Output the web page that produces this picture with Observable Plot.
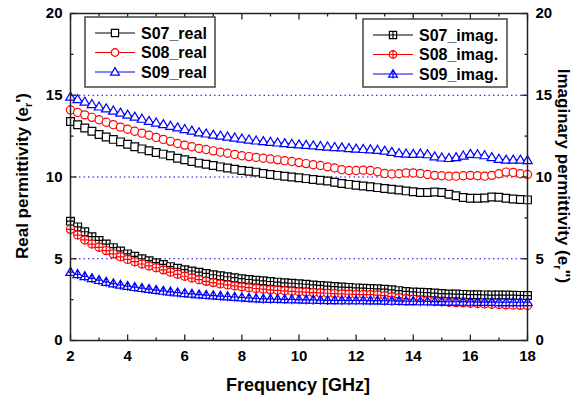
<!DOCTYPE html>
<html><head><meta charset="utf-8">
<script src="https://cdn.jsdelivr.net/npm/d3@7"></script>
<script src="https://cdn.jsdelivr.net/npm/@observablehq/plot@0.6"></script>
<style>
html,body{margin:0;padding:0;background:#fff;overflow:hidden}
svg{font-family:"Liberation Sans",Arial,sans-serif}
</style>
</head><body><div id="chart"></div>
<script>
const freq = [2,2.25,2.5,2.75,3,3.25,3.5,3.75,4,4.25,4.5,4.75,5,5.25,5.5,5.75,6,6.25,6.5,6.75,7,7.25,7.5,7.75,8,8.25,8.5,8.75,9,9.25,9.5,9.75,10,10.25,10.5,10.75,11,11.25,11.5,11.75,12,12.25,12.5,12.75,13,13.25,13.5,13.75,14,14.25,14.5,14.75,15,15.25,15.5,15.75,16,16.25,16.5,16.75,17,17.25,17.5,17.75,18];

const s07Real = [13.40,13.20,13.00,12.80,12.60,12.45,12.30,12.15,12.00,11.85,11.72,11.60,11.50,11.40,11.30,11.15,11.05,10.95,10.85,10.78,10.70,10.62,10.55,10.48,10.40,10.35,10.30,10.22,10.15,10.10,10.05,10.00,9.95,9.90,9.85,9.80,9.75,9.68,9.60,9.55,9.50,9.45,9.40,9.35,9.30,9.25,9.20,9.15,9.10,9.05,9.05,9.08,9.05,8.95,8.85,8.75,8.70,8.70,8.72,8.78,8.76,8.70,8.65,8.62,8.60];
const s08Real = [14.10,13.95,13.80,13.65,13.50,13.35,13.20,13.05,12.92,12.80,12.68,12.55,12.42,12.30,12.18,12.05,11.95,11.85,11.75,11.68,11.60,11.52,11.45,11.38,11.30,11.25,11.20,11.15,11.10,11.05,11.00,10.95,10.88,10.82,10.75,10.70,10.62,10.55,10.45,10.40,10.40,10.42,10.40,10.32,10.22,10.18,10.20,10.25,10.25,10.22,10.15,10.10,10.08,10.05,10.05,10.08,10.10,10.08,10.05,10.10,10.20,10.30,10.28,10.20,10.15];
const s09Real = [14.90,14.75,14.60,14.45,14.30,14.18,14.05,13.92,13.80,13.68,13.55,13.42,13.32,13.22,13.12,13.02,12.92,12.82,12.72,12.65,12.58,12.52,12.46,12.40,12.34,12.28,12.22,12.18,12.14,12.10,12.06,12.02,11.98,11.95,11.92,11.88,11.85,11.82,11.80,11.76,11.72,11.70,11.68,11.65,11.60,11.52,11.45,11.42,11.40,11.42,11.38,11.25,11.18,11.15,11.20,11.30,11.40,11.38,11.32,11.20,11.10,11.05,11.05,11.05,11.02];
const s07Imag = [7.30,6.95,6.65,6.35,6.12,5.90,5.68,5.48,5.30,5.15,5.00,4.88,4.76,4.65,4.52,4.42,4.33,4.25,4.18,4.10,4.02,3.96,3.90,3.84,3.78,3.73,3.69,3.65,3.61,3.57,3.53,3.50,3.47,3.44,3.40,3.37,3.33,3.30,3.27,3.25,3.22,3.20,3.18,3.16,3.14,3.10,3.05,3.00,2.97,2.95,2.93,2.90,2.87,2.85,2.84,2.82,2.80,2.80,2.79,2.78,2.78,2.78,2.77,2.76,2.75];
const s08Imag = [6.80,6.45,6.15,5.90,5.70,5.50,5.30,5.12,4.96,4.82,4.68,4.56,4.45,4.32,4.18,4.05,3.93,3.82,3.72,3.62,3.54,3.46,3.40,3.34,3.28,3.23,3.18,3.14,3.10,3.07,3.04,3.01,2.98,2.96,2.93,2.91,2.89,2.87,2.85,2.83,2.82,2.81,2.80,2.78,2.74,2.68,2.62,2.56,2.52,2.48,2.44,2.40,2.37,2.34,2.32,2.30,2.28,2.26,2.24,2.22,2.20,2.18,2.16,2.15,2.14];
const s09Imag = [4.18,4.05,3.92,3.80,3.69,3.58,3.48,3.40,3.33,3.26,3.20,3.14,3.08,3.03,2.98,2.93,2.89,2.85,2.81,2.78,2.75,2.72,2.69,2.66,2.63,2.60,2.57,2.55,2.54,2.53,2.52,2.51,2.50,2.49,2.48,2.47,2.46,2.46,2.45,2.45,2.45,2.45,2.44,2.44,2.43,2.42,2.41,2.40,2.40,2.39,2.39,2.38,2.38,2.37,2.37,2.36,2.36,2.35,2.35,2.35,2.34,2.34,2.34,2.34,2.34];

const seriesNames = ["S07_real","S08_real","S09_real","S07_imag.","S08_imag.","S09_imag."];
const seriesValues = [s07Real,s08Real,s09Real,s07Imag,s08Imag,s09Imag];
const seriesColors = ["#000000","#ff0000","#0000ff","#000000","#ff0000","#0000ff"];
const seriesShapes = ["square","circle","triangle","square","circle","triangle"];
const seriesCross = [false,false,false,true,true,true];
const xTicks = [2,4,6,8,10,12,14,16,18];
const xMinor = [3,5,7,9,11,13,15,17];
const yTicks = [0,5,10,15,20];
const yMinor = [2.5,7.5,12.5,17.5];
const gridLevels = [5,10,15];

function makeSymbol(shape, cross) {
  return {draw(ctx, size) {
    const r = Math.sqrt(size / Math.PI);
    if (shape === "square") {
      const h = r * 0.9;
      ctx.moveTo(-h,-h); ctx.lineTo(h,-h); ctx.lineTo(h,h); ctx.lineTo(-h,h); ctx.closePath();
      if (cross) { ctx.moveTo(-h,0); ctx.lineTo(h,0); ctx.moveTo(0,-h); ctx.lineTo(0,h); }
    } else if (shape === "circle") {
      const c = r * 0.95;
      ctx.moveTo(c,0); ctx.arc(0,0,c,0,2*Math.PI); ctx.closePath();
      if (cross) { ctx.moveTo(-c,0); ctx.lineTo(c,0); ctx.moveTo(0,-c); ctx.lineTo(0,c); }
    } else {
      const h = r * 1.1;
      ctx.moveTo(0,-h); ctx.lineTo(h*1.0, h*0.7); ctx.lineTo(-h*1.0, h*0.7); ctx.closePath();
      if (cross) { ctx.moveTo(0,-h); ctx.lineTo(0,h*1.0); ctx.moveTo(-h*0.5,0); ctx.lineTo(h*0.5,0); }
    }
  }};
}
// inward tick marks drawn as one-sided segment symbols; length = r
function tickSymbol(dx, dy) {
  return {draw(ctx, size) {
    const l = Math.sqrt(size / Math.PI);
    ctx.moveTo(0, 0); ctx.lineTo(dx * l, dy * l);
  }};
}

const marks = [
  Plot.ruleY(gridLevels, {stroke: "#0000ff", strokeDasharray: "1.5,3", strokeWidth: 1})
];
seriesValues.forEach((vals, k) => {
  const data = freq.map((f, i) => ({f, v: vals[i]}));
  marks.push(Plot.line(data, {x: "f", y: "v", stroke: seriesColors[k], strokeWidth: 1}));
  marks.push(Plot.dot(data, {x: "f", y: "v", symbol: makeSymbol(seriesShapes[k], seriesCross[k]), r: 4.3, stroke: seriesColors[k], strokeWidth: 1.2, fill: "white"}));
});
const tickStyle = {fontSize: 15, fontWeight: "bold", fill: "#000"};
const tm = {stroke: "#222", strokeWidth: 1.3, fill: "none"};
marks.push(
  Plot.axisX({ticks: xTicks, tickSize: 0, tickPadding: 10, tickFormat: d => String(d), ...tickStyle}),
  Plot.axisY({ticks: yTicks, tickSize: 0, tickPadding: 8, tickFormat: d => String(d), ...tickStyle}),
  Plot.axisY({ticks: yTicks, anchor: "right", tickSize: 0, tickPadding: 8, tickFormat: d => String(d), ...tickStyle}),
  // bottom / top ticks
  Plot.dot(xTicks, {x: d => d, y: () => 0, r: 6, symbol: tickSymbol(0, -1), ...tm}),
  Plot.dot(xMinor, {x: d => d, y: () => 0, r: 3, symbol: tickSymbol(0, -1), ...tm}),
  Plot.dot(xTicks, {x: d => d, y: () => 20, r: 6, symbol: tickSymbol(0, 1), ...tm}),
  Plot.dot(xMinor, {x: d => d, y: () => 20, r: 3, symbol: tickSymbol(0, 1), ...tm}),
  // left / right ticks
  Plot.dot(yTicks, {x: () => 2, y: d => d, r: 6, symbol: tickSymbol(1, 0), ...tm}),
  Plot.dot(yMinor, {x: () => 2, y: d => d, r: 3, symbol: tickSymbol(1, 0), ...tm}),
  Plot.dot(yTicks, {x: () => 18, y: d => d, r: 6, symbol: tickSymbol(-1, 0), ...tm}),
  Plot.dot(yMinor, {x: () => 18, y: d => d, r: 3, symbol: tickSymbol(-1, 0), ...tm}),
  Plot.frame({stroke: "#222", strokeWidth: 1.5})
);

const chart = Plot.plot({
  width: 582, height: 398,
  marginLeft: 70, marginRight: 55, marginTop: 13, marginBottom: 58,
  x: {domain: [2, 18], label: null},
  y: {domain: [0, 20], label: null},
  r: {type: "identity"},
  style: {fontFamily: '"Liberation Sans", Arial, sans-serif', background: "#fff"},
  marks
});
document.getElementById("chart").appendChild(chart);

const svg = d3.select(chart);
// axis titles
svg.append("text").attr("x", 298).attr("y", 391).attr("text-anchor", "middle")
  .attr("font-size", 18).attr("font-weight", "bold").text("Frequency [GHz]");
const lt = svg.append("text").attr("transform", "translate(28,176) rotate(-90)").attr("text-anchor", "middle")
  .attr("font-size", 17).attr("font-weight", "bold");
lt.append("tspan").text("Real permittivity (e");
lt.append("tspan").attr("font-size", 11).attr("dy", 4).text("r");
lt.append("tspan").attr("dy", -4).text("')");
const rt = svg.append("text").attr("transform", "translate(558,176) rotate(90)").attr("text-anchor", "middle")
  .attr("font-size", 17).attr("font-weight", "bold");
rt.append("tspan").text("Imaginary permittivity (e");
rt.append("tspan").attr("font-size", 11).attr("dy", 4).text("r");
rt.append("tspan").attr("dy", -4).text("\")");

// legends
function legend(x0, y0, w, h, idx) {
  const g = svg.append("g");
  g.append("rect").attr("x", x0).attr("y", y0).attr("width", w).attr("height", h)
    .attr("fill", "white").attr("stroke", "#444").attr("stroke-width", 1.5);
  idx.forEach((k, j) => {
    const y = y0 + 16 + j * 19.5;
    g.append("line").attr("x1", x0 + 10).attr("x2", x0 + 50).attr("y1", y).attr("y2", y)
      .attr("stroke", seriesColors[k]).attr("stroke-width", 1);
    g.append("path").attr("transform", `translate(${x0 + 30},${y})`)
      .attr("d", d3.symbol().type(makeSymbol(seriesShapes[k], seriesCross[k])).size(Math.PI * 16)())
      .attr("fill", "white").attr("stroke", seriesColors[k]).attr("stroke-width", 1.2);
    g.append("text").attr("x", x0 + 56).attr("y", y + 5.5).attr("font-size", 16)
      .attr("text-anchor", "start").attr("font-weight", "bold").text(seriesNames[k]);
  });
}
legend(85, 17, 130, 70, [0, 1, 2]);
legend(363, 19, 144, 68, [3, 4, 5]);
</script>
</body></html>
